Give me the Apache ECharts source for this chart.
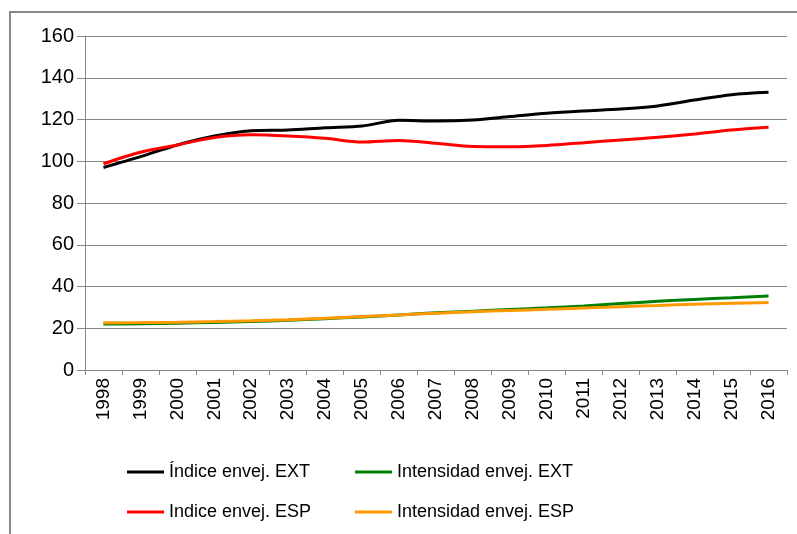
<!DOCTYPE html>
<html>
<head>
<meta charset="utf-8">
<script src="https://cdn.jsdelivr.net/npm/echarts@6/dist/echarts.min.js"></script>
<style>
html, body { margin: 0; padding: 0; background: #fff; }
#chart { width: 797px; height: 534px; }
</style>
</head>
<body>
<div id="chart"></div>
<script>
// years on the x axis
var years = ['1998', '1999', '2000', '2001', '2002', '2003', '2004', '2005', '2006', '2007',
	'2008', '2009', '2010', '2011', '2012', '2013', '2014', '2015', '2016'];
// Índice envej. EXT
var indiceExt = [97, 102.2, 107.8, 112.1, 114.6, 115.0, 116.1, 116.9, 119.6, 119.3,
	119.8, 121.4, 123.0, 124.1, 125.0, 126.5, 129.3, 131.9, 133.0];
// Indice envej. ESP
var indiceEsp = [98.8, 104.3, 107.8, 111.4, 112.7, 112.1, 111.0, 109.2, 110.0, 108.6,
	107.1, 107.0, 107.6, 108.9, 110.2, 111.5, 113.1, 115.0, 116.3];
// Intensidad envej. EXT
var intensExt = [22.0, 22.1, 22.4, 22.8, 23.2, 23.8, 24.6, 25.4, 26.4, 27.4,
	28.2, 29.0, 29.8, 30.7, 31.8, 32.9, 33.8, 34.6, 35.4];
// Intensidad envej. ESP
var intensEsp = [22.6, 22.7, 22.9, 23.2, 23.6, 24.1, 24.8, 25.6, 26.4, 27.2,
	27.9, 28.5, 29.1, 29.7, 30.3, 30.9, 31.5, 32.0, 32.3];

var font = 'Liberation Sans, Arial, sans-serif';

function mkSeries(name, data, color) {
	return {
		name : name,
		type : 'line',
		data : data,
		smooth : 0.3,
		symbol : 'none',
		lineStyle : { color : color, width : 3 },
		itemStyle : { color : color }
	};
}

function mkLegend(name, left, top) {
	return {
		data : [name],
		left : left,
		top : top,
		icon : 'rect',
		itemWidth : 37,
		itemHeight : 3,
		textStyle : { fontFamily : font, fontSize : 18, color : '#000' }
	};
}

var chart = echarts.init(document.getElementById('chart'));
chart.setOption({
	animation : false,
	backgroundColor : '#fff',
	textStyle : { fontFamily : font },
	graphic : [{
		type : 'rect',
		shape : { x : 10, y : 12, width : 800, height : 600 },
		style : { fill : null, stroke : '#888', lineWidth : 2 }
	}],
	legend : [
		mkLegend('Índice envej. EXT', 122, 458),
		mkLegend('Intensidad envej. EXT', 350, 458),
		mkLegend('Indice envej. ESP', 122, 498),
		mkLegend('Intensidad envej. ESP', 350, 498)
	],
	grid : { left : 85, right : 10, top : 36, bottom : 164 },
	xAxis : {
		type : 'category',
		data : years,
		boundaryGap : true,
		axisLine : { lineStyle : { color : '#888', width : 1 } },
		axisTick : { show : true, length : 5, lineStyle : { color : '#888' } },
		axisLabel : { rotate : 90, margin : 8, fontSize : 19, color : '#000', fontFamily : font, interval : 0 }
	},
	yAxis : {
		type : 'value',
		min : 0,
		max : 160,
		interval : 20,
		axisLine : { show : true, lineStyle : { color : '#888', width : 1 } },
		axisTick : { show : true, length : 8, lineStyle : { color : '#888' } },
		splitLine : { lineStyle : { color : '#888', width : 1 } },
		axisLabel : { margin : 11, fontSize : 20, color : '#000', fontFamily : font }
	},
	series : [
		mkSeries('Índice envej. EXT', indiceExt, '#000000'),
		mkSeries('Intensidad envej. EXT', intensExt, '#008000'),
		mkSeries('Indice envej. ESP', indiceEsp, '#ff0000'),
		mkSeries('Intensidad envej. ESP', intensEsp, '#ff9900')
	]
});
</script>
</body>
</html>
